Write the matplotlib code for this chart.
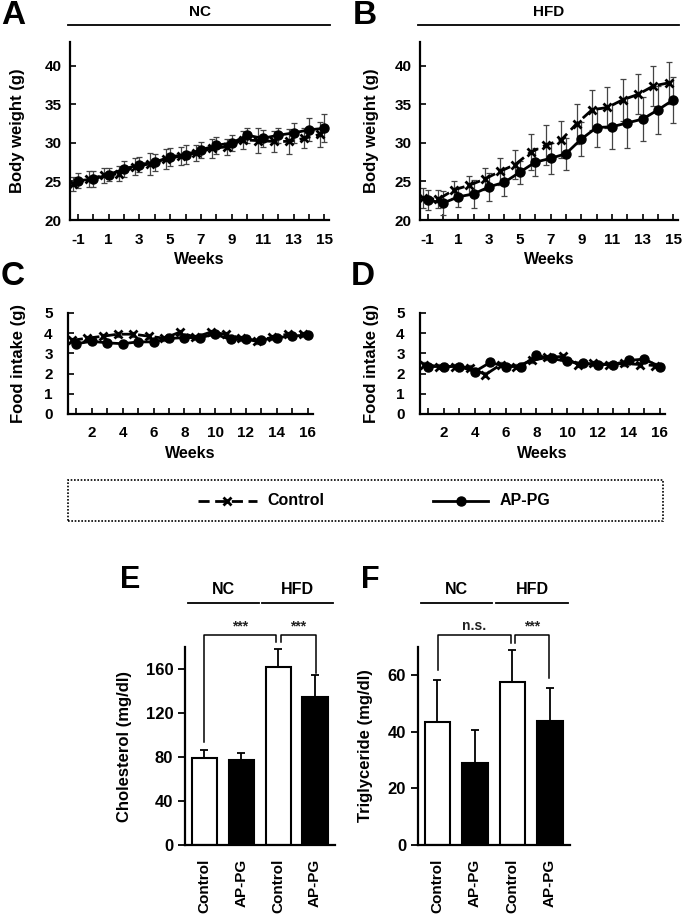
import matplotlib.pyplot as plt
from matplotlib.lines import Line2D
from matplotlib.patches import Rectangle

plt.rcParams['font.family'] = ['Liberation Sans', 'DejaVu Sans']
plt.rcParams['font.weight'] = 'bold'
plt.rcParams['axes.unicode_minus'] = False

W, H = 685, 915

# body weight, weeks -1..15
bw_weeks = list(range(-1, 16))
nc_ctrl = [24.7, 25.3, 25.8, 26.0, 26.9, 27.3, 27.9, 28.3, 28.7, 29.3, 29.5, 30.4, 30.3, 30.2, 30.2, 30.6, 31.1]
nc_ctrl_err = [0.9, 1.0, 1.0, 1.0, 1.1, 1.4, 1.3, 1.2, 1.0, 1.2, 1.0, 1.2, 1.6, 1.4, 1.6, 1.3, 1.6]
nc_ap = [25.1, 25.3, 25.9, 26.6, 27.2, 27.5, 28.2, 28.5, 29.1, 29.7, 30.0, 31.0, 30.6, 31.0, 31.3, 31.7, 31.9]
nc_ap_err = [1.0, 1.0, 0.9, 1.0, 1.0, 1.1, 1.2, 1.2, 1.0, 1.1, 1.0, 1.0, 1.1, 1.0, 1.3, 1.5, 1.8]
hfd_ctrl = [22.8, 22.7, 23.9, 24.5, 25.3, 26.3, 27.2, 28.8, 29.7, 30.4, 32.5, 34.3, 34.6, 35.6, 36.3, 37.4, 37.8]
hfd_ctrl_err = [1.3, 1.2, 1.1, 1.2, 1.4, 1.7, 1.9, 2.3, 2.6, 2.4, 2.6, 2.6, 2.7, 2.7, 2.6, 2.6, 2.7]
hfd_ap = [22.6, 22.2, 23.0, 23.4, 24.3, 24.9, 26.2, 27.5, 28.0, 28.6, 30.5, 32.0, 32.1, 32.6, 33.1, 34.3, 35.6]
hfd_ap_err = [1.3, 1.6, 1.3, 1.8, 1.8, 1.8, 1.5, 1.8, 2.0, 2.1, 2.2, 2.5, 2.9, 3.3, 2.8, 3.1, 3.0]

# food intake, weeks 1..16
fi_weeks = list(range(1, 17))
fi_nc_ctrl = [3.65, 3.75, 3.85, 3.95, 3.95, 3.85, 3.75, 4.05, 3.8, 4.05, 3.95, 3.75, 3.6, 3.8, 3.95, 3.95]
fi_nc_ap = [3.48, 3.6, 3.52, 3.48, 3.57, 3.57, 3.74, 3.78, 3.78, 3.95, 3.69, 3.69, 3.66, 3.78, 3.86, 3.91]
fi_hfd_ctrl = [2.45, 2.35, 2.35, 2.3, 1.95, 2.45, 2.35, 2.65, 2.8, 2.85, 2.45, 2.5, 2.45, 2.5, 2.45, 2.4]
fi_hfd_ap = [2.35, 2.35, 2.35, 2.1, 2.55, 2.35, 2.35, 2.9, 2.75, 2.6, 2.5, 2.45, 2.45, 2.65, 2.72, 2.35]
fi_err = [0.12] * 16

# serum lipids
groups = ['Control', 'AP-PG', 'Control', 'AP-PG']
chol = [79.5, 77.5, 162, 135]
chol_err = [7, 6, 16.5, 19.5]
tg = [43.5, 29, 57.5, 44]
tg_err = [14.7, 11.5, 11.5, 11.6]
bar_colors = ['white', 'black', 'white', 'black']

OFF = 0.3  # control points sit slightly left

fig = plt.figure(figsize=(W / 100, H / 100), dpi=100)


def axes_px(l, t, r, b):
    return fig.add_axes([l / W, 1 - b / H, (r - l) / W, (b - t) / H])


def ftxt(x, y, s, **kw):
    fig.text(x / W, 1 - y / H, s, ha='center', va='center', **kw)


def fline(x0, x1, y0, y1, **kw):
    fig.add_artist(Line2D([x0 / W, x1 / W], [1 - y0 / H, 1 - y1 / H], color='black', **kw))


def style(ax):
    for s in ['top', 'right']:
        ax.spines[s].set_visible(False)
    for s in ['left', 'bottom']:
        ax.spines[s].set_linewidth(1.6)
    ax.tick_params(labelsize=11, width=1.2)


def line_panel(ax, x, c, ce, a, ae):
    xc = [v - OFF for v in x]
    ax.errorbar(xc, c, yerr=ce, fmt='none', ecolor='#444444', elinewidth=0.9, capsize=2.5, capthick=0.9)
    ax.errorbar(x, a, yerr=ae, fmt='none', ecolor='#444444', elinewidth=0.9, capsize=2.5, capthick=0.9)
    ax.plot(xc, c, ls=(0, (4, 2)), color='black', lw=2, marker='x', ms=6, mew=2)
    ax.plot(x, a, ls='-', color='black', lw=2, marker='o', ms=6.5)


# A / B
for (l, r, c, ce, a, ae, lab, title, tx, ylx) in [
        (70, 329, nc_ctrl, nc_ctrl_err, nc_ap, nc_ap_err, 'A', 'NC', 13, 25),
        (420, 678, hfd_ctrl, hfd_ctrl_err, hfd_ap, hfd_ap_err, 'B', 'HFD', 365, 379)]:
    ax = axes_px(l, 42, r, 220)
    line_panel(ax, bw_weeks, c, ce, a, ae)
    ax.set_xlim(-1.5, 15.3)
    ax.set_ylim(20, 43.1)
    ax.set_yticks([20, 25, 30, 35, 40])
    ax.set_xticks(range(-1, 16, 2))
    ax.set_xticks(range(-1, 16), minor=True)
    style(ax)
    ax.tick_params(axis='x', direction='in', length=4, pad=9)
    ax.tick_params(axis='x', which='minor', direction='in', length=4, width=1.2)
    ax.tick_params(axis='y', direction='in', length=4, pad=6)
    ax.set_ylabel('Body weight (g)', fontsize=12, fontweight='bold')
    ax.yaxis.set_label_coords((ylx - l) / (r - l), 0.5)
    ax.set_xlabel('Weeks', fontsize=11.5, fontweight='bold', labelpad=4)
    ftxt(tx, 15, lab, fontsize=24, fontweight='bold')
    ftxt((l + r) / 2, 12, title, fontsize=11, fontweight='bold')
    fline(l - 2, r + 1, 25, 25, lw=1.3)

# C / D
for (l, r, c, a, lab, tx, ylx) in [
        (68, 313, fi_nc_ctrl, fi_nc_ap, 'C', 13, 26),
        (420, 665, fi_hfd_ctrl, fi_hfd_ap, 'D', 363, 379)]:
    ax = axes_px(l, 313, r, 414)
    line_panel(ax, fi_weeks, c, fi_err, a, fi_err)
    ax.set_xlim(0.45, 16.35)
    ax.set_ylim(0, 5)
    ax.set_yticks(range(0, 6))
    ax.set_xticks(range(2, 17, 2))
    ax.set_xticks(range(1, 17), minor=True)
    style(ax)
    ax.tick_params(axis='x', direction='in', length=4, pad=9)
    ax.tick_params(axis='x', which='minor', direction='in', length=4, width=1.2)
    ax.tick_params(axis='y', direction='in', length=4, pad=11)
    ax.set_ylabel('Food intake (g)', fontsize=12, fontweight='bold')
    ax.yaxis.set_label_coords((ylx - l) / (r - l), 0.5)
    ax.set_xlabel('Weeks', fontsize=11.5, fontweight='bold', labelpad=4)
    ftxt(tx, 277, lab, fontsize=24, fontweight='bold')

# legend box
fig.add_artist(Rectangle((68 / W, 1 - 521 / H), (663 - 68) / W, 41 / H, transform=fig.transFigure,
                         fill=False, ls=(0, (1, 1)), lw=1.2, edgecolor='black'))
fig.add_artist(Line2D([198 / W, 257 / W], [1 - 501 / H] * 2, ls=(0, (4, 2)), color='black', lw=2))
fig.add_artist(Line2D([227 / W], [1 - 501 / H], marker='x', ms=6, mew=2, color='black'))
fig.text(267 / W, 1 - 501 / H, 'Control', ha='left', va='center', fontsize=11.5, fontweight='bold')
fig.add_artist(Line2D([433 / W, 488 / W], [1 - 501 / H] * 2, color='black', lw=2))
fig.add_artist(Line2D([461 / W], [1 - 501 / H], marker='o', ms=6.5, color='black'))
fig.text(500 / W, 1 - 501 / H, 'AP-PG', ha='left', va='center', fontsize=11.5, fontweight='bold')

# E / F
narrow = ['Liberation Sans Narrow', 'Liberation Sans', 'DejaVu Sans']
for (l, r, vals, errs, ymax, yt, ylab, lab, lx, ylx, nc_l, nc_r, hfd_l, hfd_r, br, sig1) in [
        (185, 335, chol, chol_err, 180, [0, 40, 80, 120, 160], 'Cholesterol (mg/dl)', 'E', 130, 132,
         188, 259, 262, 333, [(204, 276, 742, 642), (281, 316, 642, 673)], '***'),
        (418, 570, tg, tg_err, 70, [0, 20, 40, 60], 'Triglyceride (mg/dl)', 'F', 370, 373,
         421, 492, 496, 568, [(438, 511, 670, 643), (515, 549, 643, 678)], 'n.s.')]:
    ax = axes_px(l, 647, r, 845)
    xs = range(len(groups))
    ax.bar(xs, vals, width=0.68, color=bar_colors, edgecolor='black', linewidth=1.5,
           yerr=[[0] * 4, errs], error_kw=dict(ecolor='black', elinewidth=1.3, capsize=3, capthick=1.3))
    ax.set_xlim(-0.52, 3.54)
    ax.set_ylim(0, ymax)
    ax.set_yticks(yt)
    ax.set_xticks(list(xs))
    ax.set_xticklabels(groups, rotation=90, fontsize=11.5, fontweight='bold', family=narrow)
    for t in ax.get_yticklabels():
        t.set_family(narrow)
    style(ax)
    ax.tick_params(axis='x', length=0, pad=10)
    ax.tick_params(axis='y', direction='out', length=5, width=1.3, labelsize=12)
    ax.set_ylabel(ylab, fontsize=12, fontweight='bold', family=narrow)
    ax.yaxis.set_label_coords((ylx - l) / (r - l), 0.5)
    ftxt(lx, 580, lab, fontsize=22, fontweight='bold')
    ftxt((nc_l + nc_r) / 2, 590, 'NC', fontsize=11.5, fontweight='bold')
    ftxt((hfd_l + hfd_r) / 2, 590, 'HFD', fontsize=11.5, fontweight='bold')
    fline(nc_l, nc_r, 603, 603, lw=1.3)
    fline(hfd_l, hfd_r, 603, 603, lw=1.3)
    for (x0, x1, y0, y1) in br:
        fig.add_artist(Line2D([x0 / W, x0 / W, x1 / W, x1 / W],
                              [1 - y0 / H, 1 - 635 / H, 1 - 635 / H, 1 - y1 / H], color='black', lw=1.1))
    ftxt((br[0][0] + br[0][1]) / 2, 626, sig1, fontsize=10, fontweight='bold', color='#222222')
    ftxt((br[1][0] + br[1][1]) / 2, 626, '***', fontsize=10, fontweight='bold', color='#222222')

fig.savefig('out.png', dpi=100)
